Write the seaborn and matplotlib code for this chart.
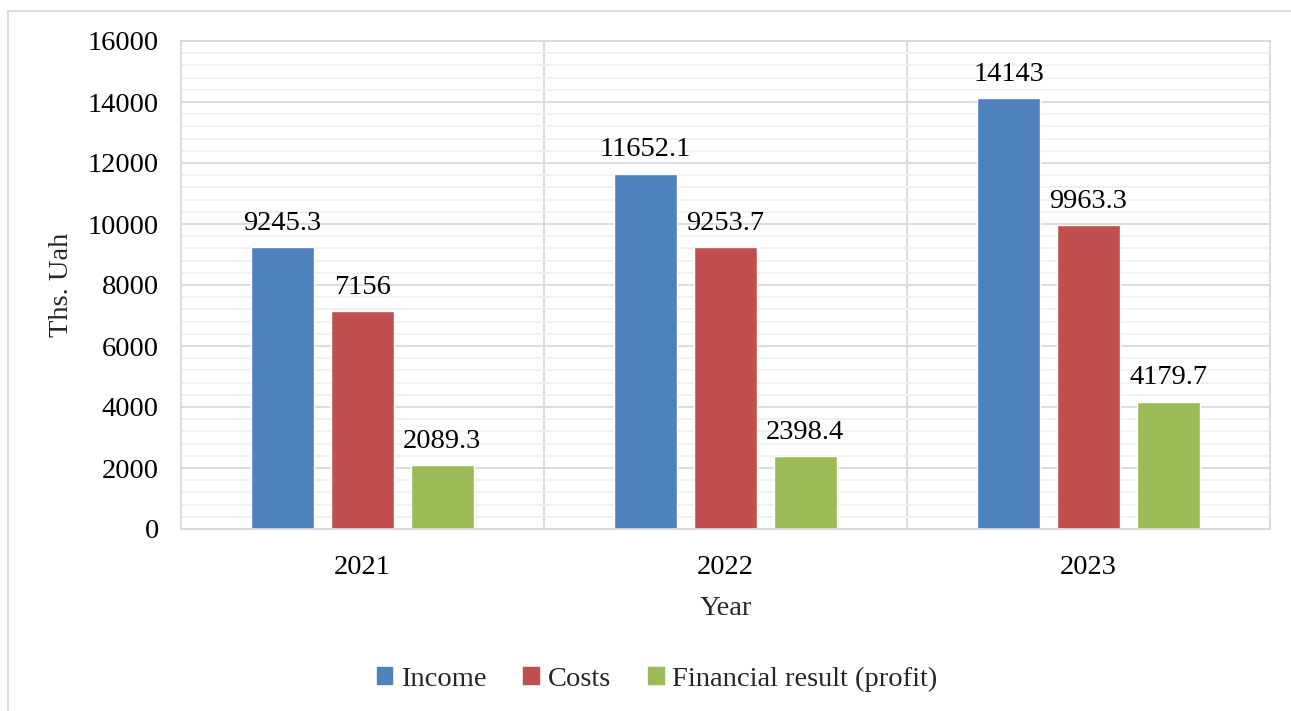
import pandas as pd
import matplotlib
matplotlib.use('Agg')
import matplotlib.pyplot as plt
import seaborn as sns
from matplotlib.patches import Rectangle
from matplotlib.ticker import MultipleLocator, FixedLocator

# Data
years = ['2021', '2022', '2023']
income = [9245.3, 11652.1, 14143]
costs = [7156, 9253.7, 9963.3]
profit = [2089.3, 2398.4, 4179.7]
series_names = ['Income', 'Costs', 'Financial result (profit)']
palette = ['#4F81BD', '#C0504D', '#9BBB59']

df = pd.DataFrame({
    'Year': years * 3,
    'Value': income + costs + profit,
    'Series': [s for s in series_names for _ in years],
})

sns.set_style('white')
plt.rcParams['font.family'] = ['Liberation Serif', 'DejaVu Serif']
fs = 20.5

fig = plt.figure(figsize=(12.91, 7.11), dpi=100)
ax = fig.add_axes([181 / 1291, 1 - 529 / 711, (1270 - 181) / 1291, (529 - 41) / 711])

sns.barplot(data=df, x='Year', y='Value', hue='Series', palette=palette,
            width=0.66, gap=0.21, ax=ax, saturation=1, legend=True)

for cont in ax.containers:
    ax.bar_label(cont, labels=[f'{v:g}' for v in cont.datavalues],
                 padding=8, fontsize=fs, color='black')

ax.set_ylim(0, 16000)
ax.set_xlim(-0.5, 2.5)
ax.yaxis.set_major_locator(MultipleLocator(2000))
ax.yaxis.set_minor_locator(MultipleLocator(400))
ax.xaxis.set_minor_locator(FixedLocator([0.5, 1.5]))
ax.grid(axis='y', which='major', color='#D9D9D9', linewidth=1.3)
ax.grid(axis='y', which='minor', color='#F0F0F0', linewidth=1.3)
ax.grid(axis='x', which='minor', color='#D9D9D9', linewidth=1.3)
ax.set_axisbelow(True)
ax.tick_params(axis='both', which='both', length=0, labelsize=fs, colors='black')
ax.tick_params(axis='y', pad=16)
ax.tick_params(axis='x', pad=19)
for sp in ax.spines.values():
    sp.set_color('#D9D9D9')
    sp.set_linewidth(1.3)

ax.set_ylabel('Ths. Uah', fontsize=fs, labelpad=10)
ax.set_xlabel('Year', fontsize=fs, labelpad=11)

ax.legend_.remove()
handles = [Rectangle((0, 0), 1, 1, color=c) for c in palette]
fig.legend(handles, series_names, loc='center', bbox_to_anchor=(657 / 1291, 1 - 679 / 711),
           ncol=3, frameon=False, fontsize=fs, handlelength=0.55, handleheight=0.55,
           handletextpad=0.3, columnspacing=1.3)

# Outer chart border
fig.patches.append(Rectangle((8 / 1291, -0.01), 1.1, 1 - 11 / 711 + 0.01,
                             transform=fig.transFigure, fill=False,
                             edgecolor='#D9D9D9', linewidth=1.3))

fig.savefig('out.png', dpi=100)
